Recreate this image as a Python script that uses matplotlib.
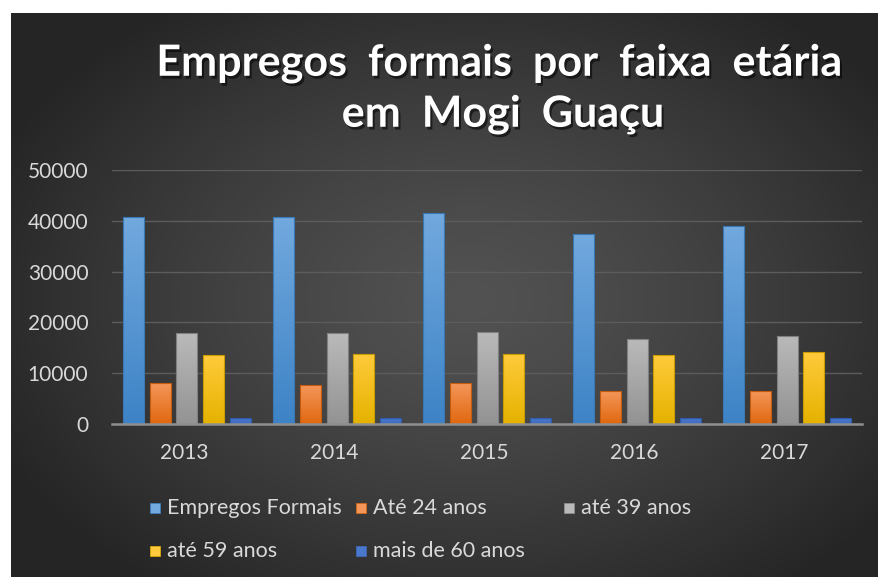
import numpy as np
import matplotlib
matplotlib.use("Agg")
import matplotlib.pyplot as plt
import matplotlib.patheffects as pe
from matplotlib.colors import LinearSegmentedColormap
from matplotlib.patches import Rectangle

plt.rcParams["font.family"] = ["Lato", "DejaVu Sans"]

years = ["2013", "2014", "2015", "2016", "2017"]
series = ["Empregos Formais", "Até 24 anos", "até 39 anos", "até 59 anos", "mais de 60 anos"]
empregos = [40700, 40700, 41500, 37500, 39000]
ate24 = [8000, 7600, 8000, 6400, 6400]
ate39 = [17900, 17900, 18200, 16700, 17400]
ate59 = [13500, 13800, 13800, 13500, 14200]
mais60 = [1250, 1250, 1250, 1250, 1250]
values = [empregos, ate24, ate39, ate59, mais60]

# (top, bottom) gradient colours per series
colors = [("#72a9de", "#3d83c6"),
          ("#f4965a", "#e0680f"),
          ("#bababa", "#939393"),
          ("#ffcb3c", "#e5b200"),
          ("#4a78cc", "#3f6cc0")]
edges = ["#3a78b5", "#c45c10", "#808080", "#c99c00", "#2f5aa8"]

W, H = 879, 577
fig = plt.figure(figsize=(W / 100, H / 100), dpi=100, facecolor="white")

# dark radial background
bg = fig.add_axes([11 / W, 0, 1 - 11 / W, (H - 13) / H])
bg.set_axis_off()
xx, yy = np.meshgrid(np.linspace(11, W, 400), np.linspace(13, H, 300))
r = np.sqrt(((xx - 470) / 520) ** 2 + ((yy - 300) / 360) ** 2)
r = np.clip(r, 0, 1)
lev = 0x52 - (0x52 - 0x25) * r ** 1.3
img = np.dstack([lev, lev, lev]) / 255.0
bg.imshow(img, extent=[0, 1, 0, 1], aspect="auto", origin="upper")
bg.set_xlim(0, 1)
bg.set_ylim(0, 1)

ax = fig.add_axes([112 / W, 153 / H, 750 / W, 254 / H])
ax.patch.set_alpha(0)
x = np.arange(len(years))
offsets = [-0.357, -0.178, 0.0, 0.178, 0.357]
bw = 0.14
for i, vals in enumerate(values):
    bars = ax.bar(x + offsets[i], vals, width=bw, facecolor="none",
                  edgecolor=edges[i], linewidth=0.8, zorder=3)
    cmap = LinearSegmentedColormap.from_list("g%d" % i, [colors[i][1], colors[i][0]])
    for b in bars:
        im = ax.imshow(np.linspace(0, 1, 256).reshape(-1, 1), cmap=cmap, origin="lower",
                       extent=[b.get_x(), b.get_x() + b.get_width(), 0, b.get_height()],
                       aspect="auto", zorder=2.9)
        im.set_clip_path(b)

ax.set_xlim(-0.5, 4.5)
ax.set_ylim(0, 50000)
ax.set_yticks(range(0, 50001, 10000))
ax.set_xticks(x - 0.02)
ax.set_xticklabels(years)
ax.grid(axis="y", color="#5c5c5c", linewidth=1.0, zorder=0)
for s in ["top", "right", "left"]:
    ax.spines[s].set_visible(False)
ax.spines["bottom"].set_color("#8f8f8f")
ax.spines["bottom"].set_linewidth(1.8)
ax.spines["bottom"].set_zorder(4)
ax.tick_params(axis="both", length=0, colors="#d9d9d9", labelsize=15)
ax.tick_params(axis="y", pad=17)
ax.tick_params(axis="x", pad=14)

title_fx = [pe.withSimplePatchShadow(offset=(1.5, -2), shadow_rgbFace="black", alpha=0.55)]
fig.text(499 / W, 1 - 63 / H, "Empregos  formais  por  faixa  etária", color="white",
         fontsize=31, fontweight="bold", ha="center", va="center", path_effects=title_fx)
fig.text(503 / W, 1 - 114 / H, "em  Mogi  Guaçu", color="white",
         fontsize=31, fontweight="bold", ha="center", va="center", path_effects=title_fx)

# legend
leg_pos = [(150, 508), (356, 508), (564, 508), (150, 551), (356, 551)]
for i, name in enumerate(series):
    px, py = leg_pos[i]
    fig.patches.append(Rectangle((px / W, 1 - (py + 5) / H), 10 / W, 10 / H,
                                 transform=fig.transFigure, facecolor=colors[i][0],
                                 edgecolor=colors[i][1], linewidth=0.5))
    fig.text((px + 17) / W, 1 - py / H, name, color="#d9d9d9", fontsize=15.5,
             ha="left", va="center")

fig.savefig("out.png", dpi=100, facecolor="white")
